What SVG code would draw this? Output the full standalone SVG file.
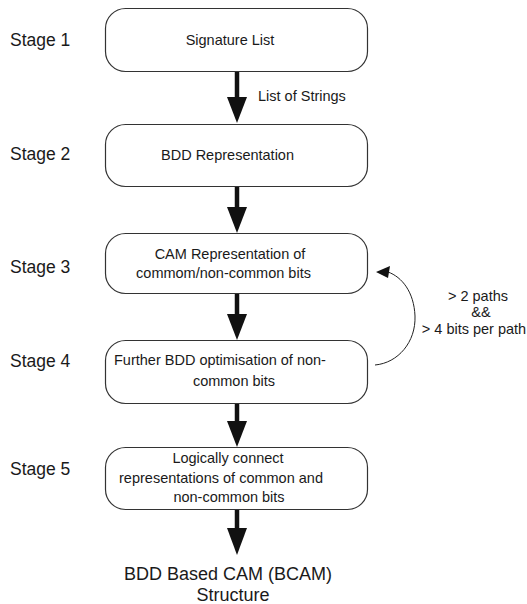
<svg xmlns="http://www.w3.org/2000/svg" width="527" height="604" viewBox="0 0 527 604">
<style>
text{font-family:"Liberation Sans",Arial,sans-serif;fill:#1a1a1a}
.stage{font-size:17.5px}
.t{font-size:14.5px}
.big{font-size:18px}
.box{fill:#fff;stroke:#333;stroke-width:1.2}
.shaft{stroke:#111;stroke-width:4.5}
.head{fill:#111}
</style>
<rect width="527" height="604" fill="#fff"/>
<g id="stage-labels">
<text class="stage" x="10" y="46">Stage 1</text>
<text class="stage" x="10" y="160">Stage 2</text>
<text class="stage" x="10" y="273">Stage 3</text>
<text class="stage" x="10" y="367">Stage 4</text>
<text class="stage" x="10" y="475">Stage 5</text>
</g>
<g id="n1">
<rect class="box" x="105.5" y="8.5" width="262" height="63" rx="20" ry="20"/>
<text class="t" x="230" y="45" text-anchor="middle">Signature List</text>
</g>
<g id="n2">
<rect class="box" x="105.5" y="124.5" width="262" height="62" rx="20" ry="20"/>
<text class="t" x="227.5" y="160" text-anchor="middle">BDD Representation</text>
</g>
<g id="n3">
<rect class="box" x="105.5" y="233.5" width="262" height="60" rx="20" ry="20"/>
<text class="t" x="230" y="259" text-anchor="middle">CAM Representation of</text>
<text class="t" x="223.5" y="278" text-anchor="middle">commom/non-common bits</text>
</g>
<g id="n4">
<rect class="box" x="105.5" y="340.5" width="262" height="63" rx="20" ry="20"/>
<text class="t" x="114" y="365">Further BDD optimisation of non-</text>
<text class="t" x="234" y="386" text-anchor="middle">common bits</text>
</g>
<g id="n5">
<rect class="box" x="105.5" y="447.5" width="262" height="62" rx="20" ry="20"/>
<text class="t" x="228" y="463" text-anchor="middle">Logically connect</text>
<text class="t" x="221" y="483" text-anchor="middle">representations of common and</text>
<text class="t" x="229" y="502" text-anchor="middle">non-common bits</text>
</g>
<g id="n6">
<text class="big" x="228" y="580" text-anchor="middle">BDD Based CAM (BCAM)</text>
<text class="big" x="233" y="601" text-anchor="middle">Structure</text>
</g>
<g id="connectors">
<line class="shaft" x1="237" y1="72" x2="237" y2="99"/>
<polygon class="head" points="227,97 247,97 237,123"/>
<text class="t" x="258" y="101">List of Strings</text>
<line class="shaft" x1="237" y1="187" x2="237" y2="209"/>
<polygon class="head" points="227,207 247,207 237,233"/>
<line class="shaft" x1="237" y1="294" x2="237" y2="316"/>
<polygon class="head" points="227,314 247,314 237,340"/>
<line class="shaft" x1="237" y1="404" x2="237" y2="423"/>
<polygon class="head" points="227,421 247,421 237,447"/>
<line class="shaft" x1="237" y1="510" x2="237" y2="530"/>
<polygon class="head" points="227,528 247,528 237,555"/>
<path d="M375,365 C398,363 416,342 415,316 C414,292 402,277 388,272" fill="none" stroke="#222" stroke-width="1"/>
<polygon class="head" points="376,272 390,266 388,278"/>
<text class="t" x="478" y="301" text-anchor="middle">&gt; 2 paths</text>
<text class="t" x="481" y="317" text-anchor="middle">&amp;&amp;</text>
<text class="t" x="474" y="334" text-anchor="middle">&gt; 4 bits per path</text>
</g>
</svg>
